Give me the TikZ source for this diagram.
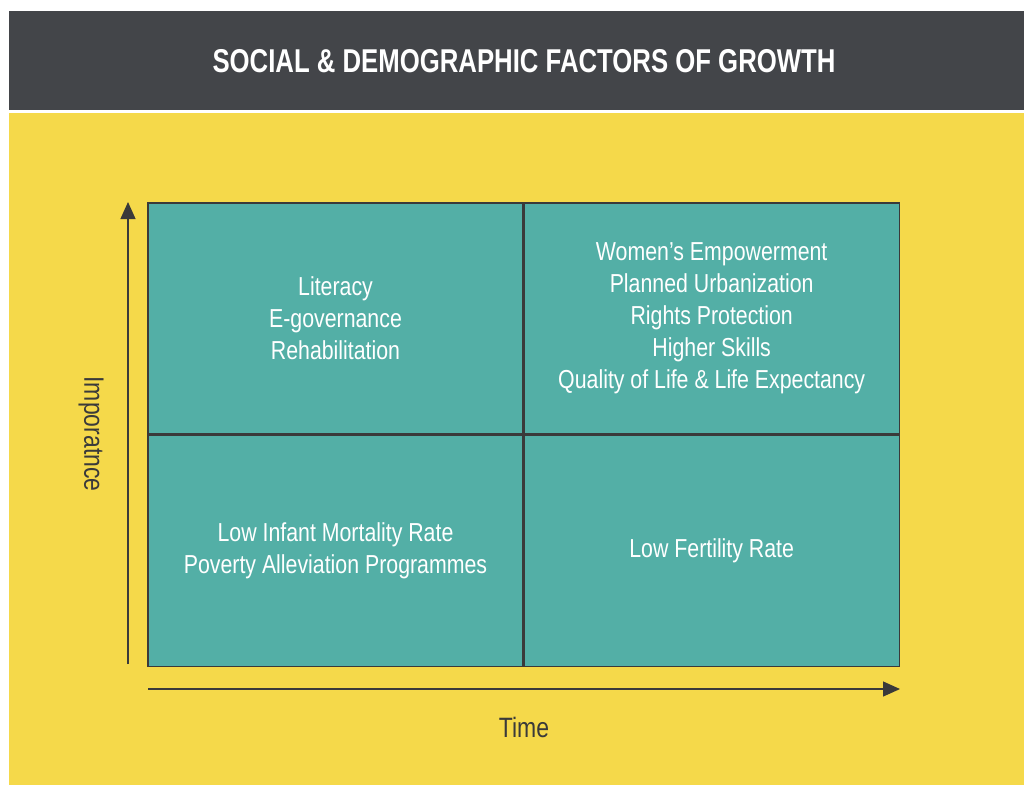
\documentclass[tikz,border=0pt]{standalone}
\usepackage{fontspec}
\setmainfont{Liberation Sans}[FakeStretch=0.78]
\newfontfamily\cellfont{Liberation Sans}[FakeStretch=0.82]
\usepackage{tikz}
\usetikzlibrary{arrows.meta,positioning}

\definecolor{barGrey}{HTML}{434549}
\definecolor{bgYellow}{HTML}{F5D94A}
\definecolor{cellTeal}{HTML}{53AFA6}
\definecolor{lineDark}{HTML}{3A3A3A}

\begin{document}
\begin{tikzpicture}[
		x=1pt, y=-1pt,
		cell/.style  = {draw=lineDark, line width=1.2pt, fill=cellTeal, rectangle, inner sep=0pt,
			minimum width=375pt, minimum height=231pt, align=center, text=white,
			font=\cellfont\fontsize{26}{32}\selectfont},
		axis/.style  = {draw=lineDark, line width=1.3pt, -{Triangle[length=17pt,width=15pt]}},
		label/.style = {text=lineDark, font=\cellfont\fontsize{28}{32}\selectfont},
		>=latex]

		% page and background panels
		\useasboundingbox (0,0) rectangle (1024,785);
		\fill[white] (0,0) rectangle (1024,785);
		\fill[barGrey] (9,11) rectangle (1024,110);
		\fill[bgYellow] (9,113) rectangle (1024,785);
		\node[text=white, font=\bfseries\fontsize{33}{36}\selectfont] (title) at (524,61)
			{SOCIAL \& DEMOGRAPHIC FACTORS OF GROWTH};

		% the four quadrants
		\node[cell] (tl) at (335.5,318.5) {Literacy\\E-governance\\Rehabilitation};
		\node[cell, right=0pt of tl] (tr) {Women’s Empowerment\\Planned Urbanization\\Rights Protection\\Higher Skills\\Quality of Life \& Life Expectancy};
		\node[cell, below=0pt of tl] (bl) {Low Infant Mortality Rate\\Poverty Alleviation Programmes};
		\node[cell, right=0pt of bl] (br) {Low Fertility Rate};

		% axes
		\coordinate (ybase) at (128,664);
		\coordinate (ytip)  at (128,202);
		\coordinate (xbase) at (148,689);
		\coordinate (xtip)  at (900,689);
		\draw[axis] (ybase) -- (ytip);
		\draw[axis] (xbase) -- (xtip);

		\node[label] (time) at (524,727) {Time};
		\node[label, rotate=-90] (imp) at (91,434) {Imporatnce};

	\end{tikzpicture}
\end{document}
